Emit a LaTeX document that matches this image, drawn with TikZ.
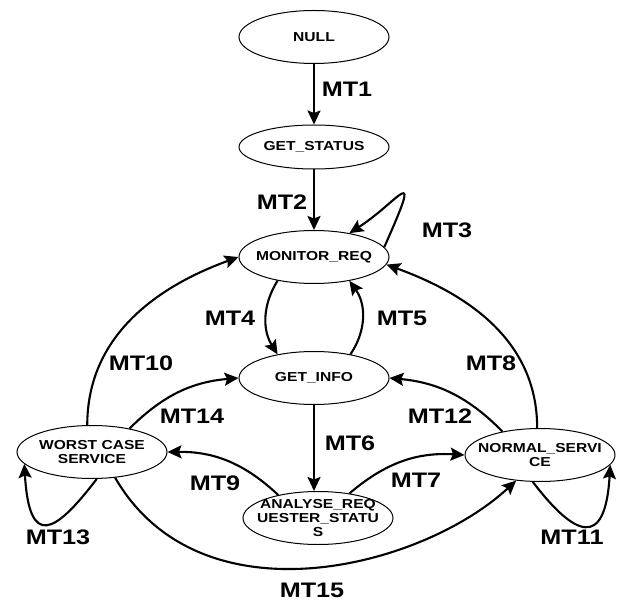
\documentclass[tikz,border=0pt]{standalone}
\usepackage{fontspec}
\setmainfont{Liberation Sans}[FakeStretch=1.2]
\usetikzlibrary{arrows.meta,shapes.geometric}

\tikzset{
    state/.style={ellipse, draw, line width=1pt, minimum width=150pt, minimum height=53pt,
        inner sep=0pt, label={[statetext]center:#1}},
    statetext/.style={font=\fontsize{13}{14}\selectfont\bfseries, align=center, inner sep=0pt},
    tr/.style={line width=2.1pt, -{Stealth[length=14pt,width=13pt,inset=2.5pt]}},
    lbl/.style={font=\fontsize{21}{24}\selectfont\bfseries, inner sep=0pt}
}

\begin{document}
\begin{tikzpicture}[x=1pt,y=1pt]
    \useasboundingbox (0,0) rectangle (618,-601);

    % states
    \node[state=NULL]                            (null)    at (314,-37)  {};
    \node[state=GET\_STATUS, minimum height=44pt] (status)  at (314,-147) {};
    \node[state=MONITOR\_REQ]                    (monitor) at (314,-257) {};
    \node[state=GET\_INFO]                       (info)    at (314,-378) {};
    \node[state={ANALYSE\_REQ\\UESTER\_STATU\\S}] (analyse) at (318,-518) {};
    \node[state={WORST CASE\\SERVICE}]           (worst)   at (92,-452)  {};
    \node[state={NORMAL\_SERVI\\CE}]             (normal)  at (540,-455) {};

    % transitions
    \draw[tr] (null) -- (status);
    \draw[tr] (status) -- (monitor);
    \draw[tr] (monitor.8) .. controls +(40,90) and +(50,32) .. (monitor.34);
    \draw[tr] (monitor.213) to[bend right=32] (info.147);
    \draw[tr] (info.33) to[bend right=35] (monitor.-34);
    \draw[tr] (info) -- (info.south |- analyse.north);
    \draw[tr] (analyse.38) to[bend left=22] (normal.west);
    \draw[tr] (normal.96) to[out=90,in=-20] (monitor.-6);
    \draw[tr] (analyse.150) to[bend right=22] (worst.east);
    \draw[tr] (worst.100) to[out=90,in=200] (monitor.west);
    \draw[tr] (normal.255) .. controls +(42,-55) and +(-5,-85) .. (normal.-8);
    \draw[tr] (normal.148) to[bend right=20] (info.east);
    \draw[tr] (worst.-80) .. controls +(-42,-55) and +(5,-85) .. (worst.190);
    \draw[tr] (worst.32) to[bend left=20] (info.west);
    \draw[tr] (worst.-48) .. controls +(85,-147) and +(-95,-88) .. (normal.227);

    % labels
    \node[lbl] (t1)  at (347,-89)  {MT1};
    \node[lbl] (t2)  at (282,-202) {MT2};
    \node[lbl] (t3)  at (447,-230) {MT3};
    \node[lbl] (t4)  at (230,-318) {MT4};
    \node[lbl] (t5)  at (402,-318) {MT5};
    \node[lbl] (t6)  at (350,-443) {MT6};
    \node[lbl] (t7)  at (416,-480) {MT7};
    \node[lbl] (t8)  at (491,-363) {MT8};
    \node[lbl] (t9)  at (215,-483) {MT9};
    \node[lbl] (t10) at (141,-363) {MT10};
    \node[lbl] (t11) at (572,-537) {MT11};
    \node[lbl] (t12) at (440,-416) {MT12};
    \node[lbl] (t13) at (58,-537)  {MT13};
    \node[lbl] (t14) at (192,-416) {MT14};
    \node[lbl] (t15) at (312,-590) {MT15};
\end{tikzpicture}
\end{document}
